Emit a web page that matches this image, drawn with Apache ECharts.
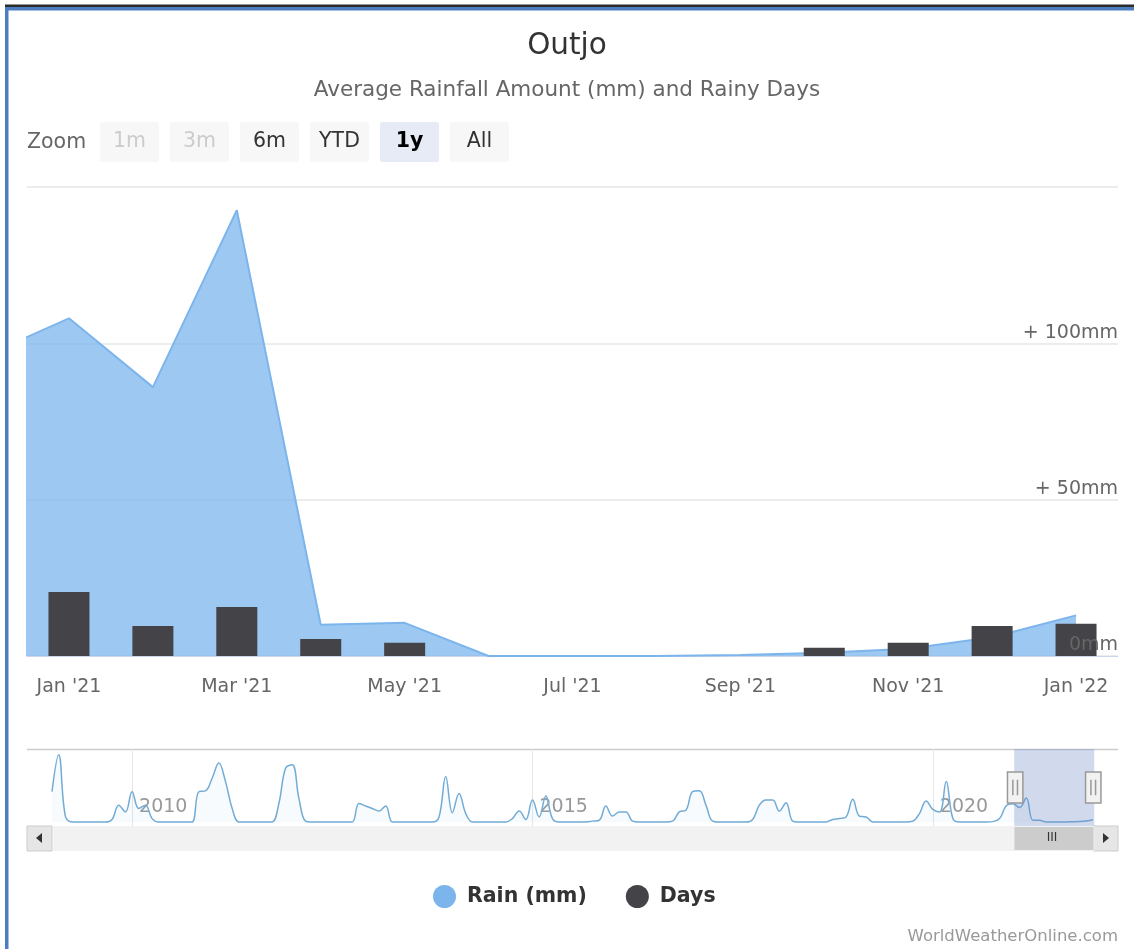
<!DOCTYPE html>
<html lang="en">
<head>
<meta charset="UTF-8">
<title>Outjo</title>
<script src="https://cdn.jsdelivr.net/npm/echarts@6/dist/echarts.min.js"></script>
<style>
body{margin:0;background:#fff}
#main{width:1134px;height:949px}
</style>
</head>
<body>
<div id="main"></div>
<script type="text/javascript">
// monthly rainfall (mm), Jan 2009 .. Jan 2022
var rainMm = [
    180, 400, 35, 0, 0, 0, 0, 0, 0, 15, 100, 60,      // 2009
    180, 80, 100, 20, 0, 0, 0, 0, 0, 0, 180, 185,     // 2010
    260, 350, 240, 80, 0, 0, 0, 0, 0, 0, 110, 320,    // 2011
    340, 140, 5, 0, 0, 0, 0, 0, 0, 0, 110, 95,        // 2012
    80, 65, 95, 0, 0, 0, 0, 0, 0, 0, 30, 270,         // 2013
    55, 170, 50, 0, 0, 0, 0, 0, 0, 20, 65, 15,        // 2014
    130, 30, 155, 20, 0, 0, 0, 0, 0, 5, 10, 95,       // 2015
    35, 60, 60, 5, 0, 0, 0, 0, 0, 5, 60, 70,          // 2016
    180, 185, 100, 5, 0, 0, 0, 0, 0, 15, 100, 130,    // 2017
    130, 65, 115, 5, 0, 0, 0, 0, 0, 15, 20, 30,       // 2018
    135, 35, 30, 0, 0, 0, 0, 0, 0, 5, 50, 125,        // 2019
    75, 60, 240, 20, 0, 0, 0, 0, 0, 2, 20, 96,        // 2020
    108, 86, 142.6, 10, 10.6, 0, 0, 0, 0.3, 1, 2.3, 6, // 2021
    13                                                 // 2022
];
// rainy days, Jan 2021 .. Jan 2022
var daysFirst = 144;
var rainyDays = [20.5, 9.6, 15.7, 5.4, 4.2, 0, 0, 0, 0, 2.6, 4.2, 9.6, 10.3];

var monthNames = ['Jan','Feb','Mar','Apr','May','Jun','Jul','Aug','Sep','Oct','Nov','Dec'];
var firstYear = 2009;
var yTicks = [0, 50, 100, 150];
var navYearIdx = [12, 72, 132];
var navYearLabels = ['2010', '2015', '2020'];
var zoomButtons = ['1m', '3m', '6m', 'YTD', '1y', 'All'];
var zoomDisabled = ['1m', '3m'];
var zoomSelected = '1y';

var months = [];
for (var i = 0; i < rainMm.length; i++) {
    var y = firstYear + Math.floor(i / 12);
    months.push(monthNames[i % 12] + " '" + String(y).slice(2));
}
var daysData = [];
for (var i = 0; i < rainMm.length; i++) {
    var k = i - daysFirst;
    daysData.push(k >= 0 && k < rainyDays.length ? rainyDays[k] : null);
}
var navData = [];
for (var i = 0; i < rainMm.length; i++) navData.push([i, rainMm[i]]);

var FONT = 'DejaVu Sans';
var graphics = [
    {type: 'rect', shape: {x: 5, y: 4.5, width: 1129, height: 2.5}, style: {fill: '#2b2b2b'}, silent: true},
    {type: 'rect', shape: {x: 5, y: 7, width: 1129, height: 3.5}, style: {fill: '#4c7dc0'}, silent: true},
    {type: 'rect', shape: {x: 5, y: 7, width: 3.5, height: 942}, style: {fill: '#4c7dc0'}, silent: true},
    {type: 'text', x: 27, y: 143, style: {text: 'Zoom', fill: '#666666', font: '20.5px "DejaVu Sans"', textVerticalAlign: 'middle'}},
    // navigator outline
    {type: 'line', shape: {x1: 27, y1: 749.5, x2: 1118, y2: 749.5}, style: {stroke: '#cccccc', lineWidth: 1.5}, silent: true},
    // scrollbar buttons
    {type: 'rect', shape: {x: 27, y: 826, width: 25, height: 25}, style: {fill: '#e6e6e6', stroke: '#cccccc'}, silent: true},
    {type: 'polygon', shape: {points: [[42, 833], [42, 843], [36, 838]]}, style: {fill: '#333333'}, silent: true},
    {type: 'rect', shape: {x: 1093, y: 826, width: 25, height: 25}, style: {fill: '#e6e6e6', stroke: '#cccccc'}, silent: true},
    {type: 'polygon', shape: {points: [[1103, 833], [1103, 843], [1109, 838]]}, style: {fill: '#333333'}, silent: true},
    {type: 'text', x: 1052, y: 838, z: 100, style: {text: 'III', fill: '#333333', font: '12px "DejaVu Sans"', textAlign: 'center', textVerticalAlign: 'middle'}},
    {type: 'text', right: 16, top: 928, style: {text: 'WorldWeatherOnline.com', fill: '#999999', font: '16.5px "DejaVu Sans"'}}
];
zoomButtons.forEach(function (b, i) {
    var sel = b === zoomSelected, dis = zoomDisabled.indexOf(b) >= 0;
    graphics.push({
        type: 'group', x: 100 + i * 70, y: 122,
        children: [
            {type: 'rect', shape: {x: 0, y: 0, width: 59, height: 40, r: 2}, style: {fill: sel ? '#e6ebf5' : '#f7f7f7'}},
            {type: 'text', x: 29.5, y: 20, style: {
                text: b, fill: dis ? '#cccccc' : (sel ? '#000000' : '#333333'),
                font: (sel ? 'bold ' : '') + '20.5px "DejaVu Sans"',
                textAlign: 'center', textVerticalAlign: 'middle'}}
        ]
    });
});

var yLabelFmt = function (v) { return v === 0 ? '0mm' : '+ ' + v + 'mm'; };

var myChart = echarts.init(document.getElementById('main'));
myChart.setOption({
    backgroundColor: '#ffffff',
    animation: false,
    textStyle: {fontFamily: FONT},
    title: [
        {text: 'Outjo', left: 'center', top: 26, textStyle: {fontSize: 29.5, fontWeight: 'normal', color: '#333333', fontFamily: FONT}},
        {text: 'Average Rainfall Amount (mm) and Rainy Days', left: 'center', top: 74, textStyle: {fontSize: 21.5, fontWeight: 'normal', color: '#666666', fontFamily: FONT}}
    ],
    legend: {
        data: ['Rain (mm)', 'Days'],
        top: 880, left: 428,
        icon: 'circle', itemWidth: 23, itemHeight: 23, itemGap: 39,
        textStyle: {fontSize: 20.5, fontWeight: 'bold', color: '#333333', fontFamily: FONT, padding: [0, 0, 0, 6]}
    },
    grid: [
        {left: 27, right: 16, top: 187, bottom: 293},
        {left: 52, right: 41, top: 749, height: 77}
    ],
    xAxis: [
        {
            type: 'category', gridIndex: 0, data: months, boundaryGap: true,
            axisLine: {lineStyle: {color: '#ccd6eb'}},
            axisTick: {alignWithLabel: true, length: 15, lineStyle: {color: '#ccd6eb'},
                interval: function (idx) { return idx % 2 === 0; }},
            axisLabel: {color: '#666666', fontSize: 19, margin: 22,
                interval: function (idx) { return idx % 2 === 0; }},
            splitLine: {show: false}
        },
        {
            type: 'value', gridIndex: 1, min: 0, max: rainMm.length - 1,
            axisLine: {show: false},
            axisTick: {show: false, customValues: navYearIdx},
            splitLine: {show: true, lineStyle: {color: '#e6e6e6'}},
            axisLabel: {customValues: navYearIdx, color: '#999999', fontSize: 19, align: 'left',
                margin: -28, padding: [0, 0, 0, 7],
                formatter: function (v) { return navYearLabels[navYearIdx.indexOf(v)] || ''; }}
        }
    ],
    yAxis: [
        {
            // gridlines, drawn under the series
            type: 'value', gridIndex: 0, position: 'right',
            min: yTicks[0], max: yTicks[yTicks.length - 1], interval: 50,
            axisLine: {show: false}, axisTick: {show: false}, axisLabel: {show: false},
            splitLine: {lineStyle: {color: '#e6e6e6', width: 1.5}}
        },
        {type: 'value', gridIndex: 1, min: -24, max: 434, show: false},
        {
            // labels, drawn over the bars
            type: 'value', gridIndex: 0, position: 'right', z: 10,
            min: yTicks[0], max: yTicks[yTicks.length - 1], interval: 50,
            axisLine: {show: false}, axisTick: {show: false}, splitLine: {show: false},
            axisLabel: {inside: true, showMaxLabel: false, margin: 0, color: '#666666', fontSize: 19,
                verticalAlign: 'bottom', padding: [0, 0, 1, 0], formatter: yLabelFmt}
        }
    ],
    dataZoom: [
        {
            type: 'slider', xAxisIndex: 0, filterMode: 'none',
            startValue: 144, endValue: 156,
            left: 52, right: 41, top: 749, height: 77,
            showDataShadow: false, showDetail: false, brushSelect: false, moveHandleSize: 0,
            backgroundColor: 'rgba(0,0,0,0)', borderColor: 'rgba(0,0,0,0)',
            fillerColor: 'rgba(102,133,194,0.3)',
            handleIcon: 'path://M0,0 H10 V20 H0 Z M3.5,5 V15 M6.5,5 V15',
            handleSize: '40%',
            handleStyle: {color: '#f2f2f2', borderColor: '#999999', borderWidth: 1.5},
            z: 10
        },
        {
            type: 'slider', xAxisIndex: 0, filterMode: 'none',
            startValue: 144, endValue: 156,
            left: 52, right: 41, top: 826, height: 25,
            showDataShadow: false, showDetail: false, brushSelect: false, moveHandleSize: 0,
            backgroundColor: '#f2f2f2', borderColor: '#f2f2f2',
            fillerColor: '#cccccc',
            handleIcon: 'path://M0,0 H1 V1 H0 Z',
            handleStyle: {opacity: 0},
            z: 10
        }
    ],
    series: [
        {
            name: 'Rain (mm)', type: 'line', xAxisIndex: 0, yAxisIndex: 0,
            data: rainMm, showSymbol: false, symbol: 'circle',
            itemStyle: {color: '#7cb5ec'},
            lineStyle: {color: '#7cb5ec', width: 2},
            areaStyle: {color: '#7cb5ec', opacity: 0.75},
            z: 2
        },
        {
            name: 'Days', type: 'bar', xAxisIndex: 0, yAxisIndex: 0,
            data: daysData, barWidth: 41,
            itemStyle: {color: '#434348'},
            z: 3
        },
        {
            name: 'navigator', type: 'line', xAxisIndex: 1, yAxisIndex: 1,
            data: navData, showSymbol: false, smooth: 0.4, silent: true,
            lineStyle: {color: '#72acd6', width: 1.5},
            areaStyle: {color: '#72acd6', opacity: 0.05},
            z: 2
        }
    ],
    graphic: graphics
});
</script>
</body>
</html>
